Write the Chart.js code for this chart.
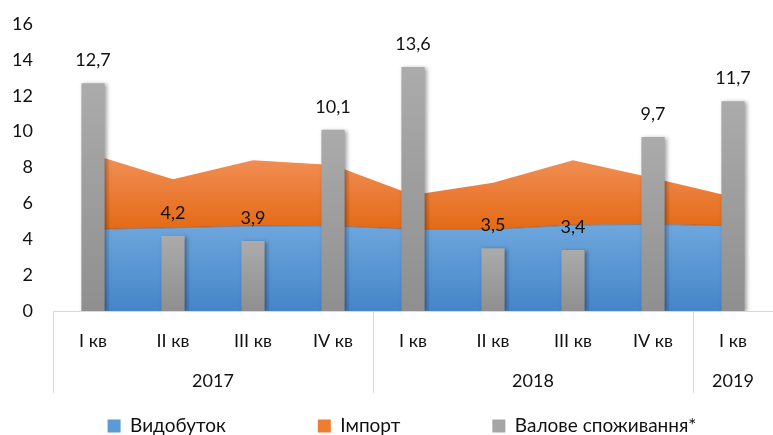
<!DOCTYPE html>
<html>
<head>
<meta charset="utf-8">
<script src="https://cdn.jsdelivr.net/npm/chart.js@4.4.0/dist/chart.umd.min.js"></script>
<style>
html,body{margin:0;padding:0;background:#fff;}
#wrap{width:773px;height:435px;position:relative;}
</style>
</head>
<body>
<div id="wrap"><canvas id="c" width="773" height="435"></canvas></div>
<script>
const categories = ['I кв','II кв','III кв','IV кв','I кв','II кв','III кв','IV кв','I кв'];
const years = ['2017','2018','2019'];
const yearSpans = [4,4,1];
const production = [4.55,4.64,4.74,4.75,4.55,4.55,4.79,4.83,4.75];
const imports = [4.18,2.70,3.66,3.39,1.92,2.60,3.62,2.58,1.60];
const consumption = [12.7,4.2,3.9,10.1,13.6,3.5,3.4,9.7,11.7];
const seriesNames = ['Видобуток','Імпорт','Валове споживання*'];

const FONT = 'Lato, "Open Sans", sans-serif';
const TXT = '#111';
const LEG_PAD = 92;
const LEG_FONT = 19;

function vGrad(chart, v0, v1, c0, c1){
  const ys = chart.scales.y;
  if(!ys || !chart.chartArea) return c1;
  const g = chart.ctx.createLinearGradient(0, ys.getPixelForValue(v0), 0, ys.getPixelForValue(v1));
  g.addColorStop(0, c0); g.addColorStop(1, c1);
  return g;
}

const barShadow = {
  id:'barShadow',
  beforeDatasetDraw(chart, args){
    const ds = chart.data.datasets[args.index];
    chart.ctx.save();
    if(ds.type==='bar'){
      chart.ctx.shadowColor='rgba(0,0,0,0.35)';
      chart.ctx.shadowBlur=4; chart.ctx.shadowOffsetX=2; chart.ctx.shadowOffsetY=1;
    }
  },
  afterDatasetDraw(chart){ chart.ctx.restore(); }
};

const valueLabels = {
  id:'valueLabels',
  afterDatasetsDraw(chart){
    const ctx = chart.ctx;
    chart.data.datasets.forEach((ds,i)=>{
      if(ds.type!=='bar') return;
      const meta = chart.getDatasetMeta(i);
      ctx.save();
      ctx.font = '18px '+FONT; ctx.fillStyle = TXT;
      ctx.textAlign='center'; ctx.textBaseline='alphabetic';
      meta.data.forEach((el,j)=>{
        ctx.fillText(String(ds.data[j]).replace('.',','), el.x, el.y-17);
      });
      ctx.restore();
    });
  }
};

const yearAxis = {
  id:'yearAxis',
  afterDraw(chart){
    const xs = chart.scales.x, ctx = chart.ctx;
    const half = (xs.getPixelForValue(1)-xs.getPixelForValue(0))/2;
    const yTop = chart.chartArea.bottom;
    ctx.save();
    ctx.strokeStyle='#d9d9d9'; ctx.lineWidth=1;
    ctx.font='18px '+FONT; ctx.fillStyle=TXT; ctx.textAlign='center'; ctx.textBaseline='middle';
    let start=0;
    years.forEach((yr,k)=>{
      const end = start+yearSpans[k]-1;
      const left = xs.getPixelForValue(start)-half;
      const x = Math.round(left)+0.5;
      ctx.beginPath(); ctx.moveTo(x, yTop); ctx.lineTo(x, yTop+82); ctx.stroke();
      const cx = (xs.getPixelForValue(start)+xs.getPixelForValue(end))/2;
      ctx.fillText(yr, cx, yTop+70);
      start = end+1;
    });
    ctx.restore();
  }
};

const legendShift = {
  id:'legendShift',
  afterLayout(chart){
    const lg = chart.legend;
    if(lg){ lg.left += 14; lg.right += 14; }
  }
};

new Chart(document.getElementById('c'), {
  data:{
    labels: categories,
    datasets:[
      {type:'line', label:seriesNames[0], data:production, stack:'area', order:1,
       fill:'origin', tension:0, pointRadius:0, borderWidth:1, borderColor:'rgba(90,90,110,0.55)',
       backgroundColor:(c)=>vGrad(c.chart,5,0,'#70a8de','#4585c8')},
      {type:'line', label:seriesNames[1], data:imports, stack:'area', order:2,
       fill:'-1', tension:0, pointRadius:0, borderWidth:0, borderColor:'rgba(0,0,0,0)',
       backgroundColor:(c)=>vGrad(c.chart,8.8,4.6,'#f2915a','#e46a16')},
      {type:'bar', label:seriesNames[2], data:consumption, stack:'bars', order:0,
       barPercentage:0.29, categoryPercentage:1,
       backgroundColor:(c)=>{ const v = c.raw; return (typeof v==='number') ? vGrad(c.chart,v,0,'#ababab','#8f8f8f') : '#a0a0a0'; }}
    ]
  },
  options:{
    responsive:false, animation:false,
    layout:{padding:{top:24,left:0,right:-3,bottom:-10.5}},
    scales:{
      x:{
        offset:true, stacked:true,
        grid:{display:false,drawTicks:false},
        border:{display:true,color:'#d9d9d9',width:1},
        ticks:{font:{family:FONT,size:18},color:TXT,mirror:true,padding:-41,maxRotation:0,autoSkip:false},
        afterFit(s){ s.height = 13.5; }
      },
      y:{
        stacked:true, min:0, max:16,
        grid:{display:false,drawTicks:false},
        border:{display:false},
        ticks:{stepSize:2,font:{family:FONT,size:18},color:TXT,padding:20},
        afterFit(s){ s.width = 53; s.paddingTop = 0; s.paddingBottom = 0; }
      }
    },
    plugins:{
      tooltip:{enabled:false},
      legend:{
        position:'bottom',
        labels:{
          font:{family:FONT,size:LEG_FONT}, color:TXT, boxWidth:13, boxHeight:13, padding:LEG_PAD,
          sort:(a,b)=>a.datasetIndex-b.datasetIndex,
          generateLabels(chart){
            const cols=['#5b9bd5','#ed7d31','#a5a5a5'];
            return chart.data.datasets.map((ds,i)=>({text:ds.label, fillStyle:cols[i], strokeStyle:cols[i], lineWidth:0, datasetIndex:i, hidden:false, fontColor:TXT}));
          }
        }
      }
    }
  },
  plugins:[barShadow,valueLabels,yearAxis,legendShift]
});
</script>
</body>
</html>
